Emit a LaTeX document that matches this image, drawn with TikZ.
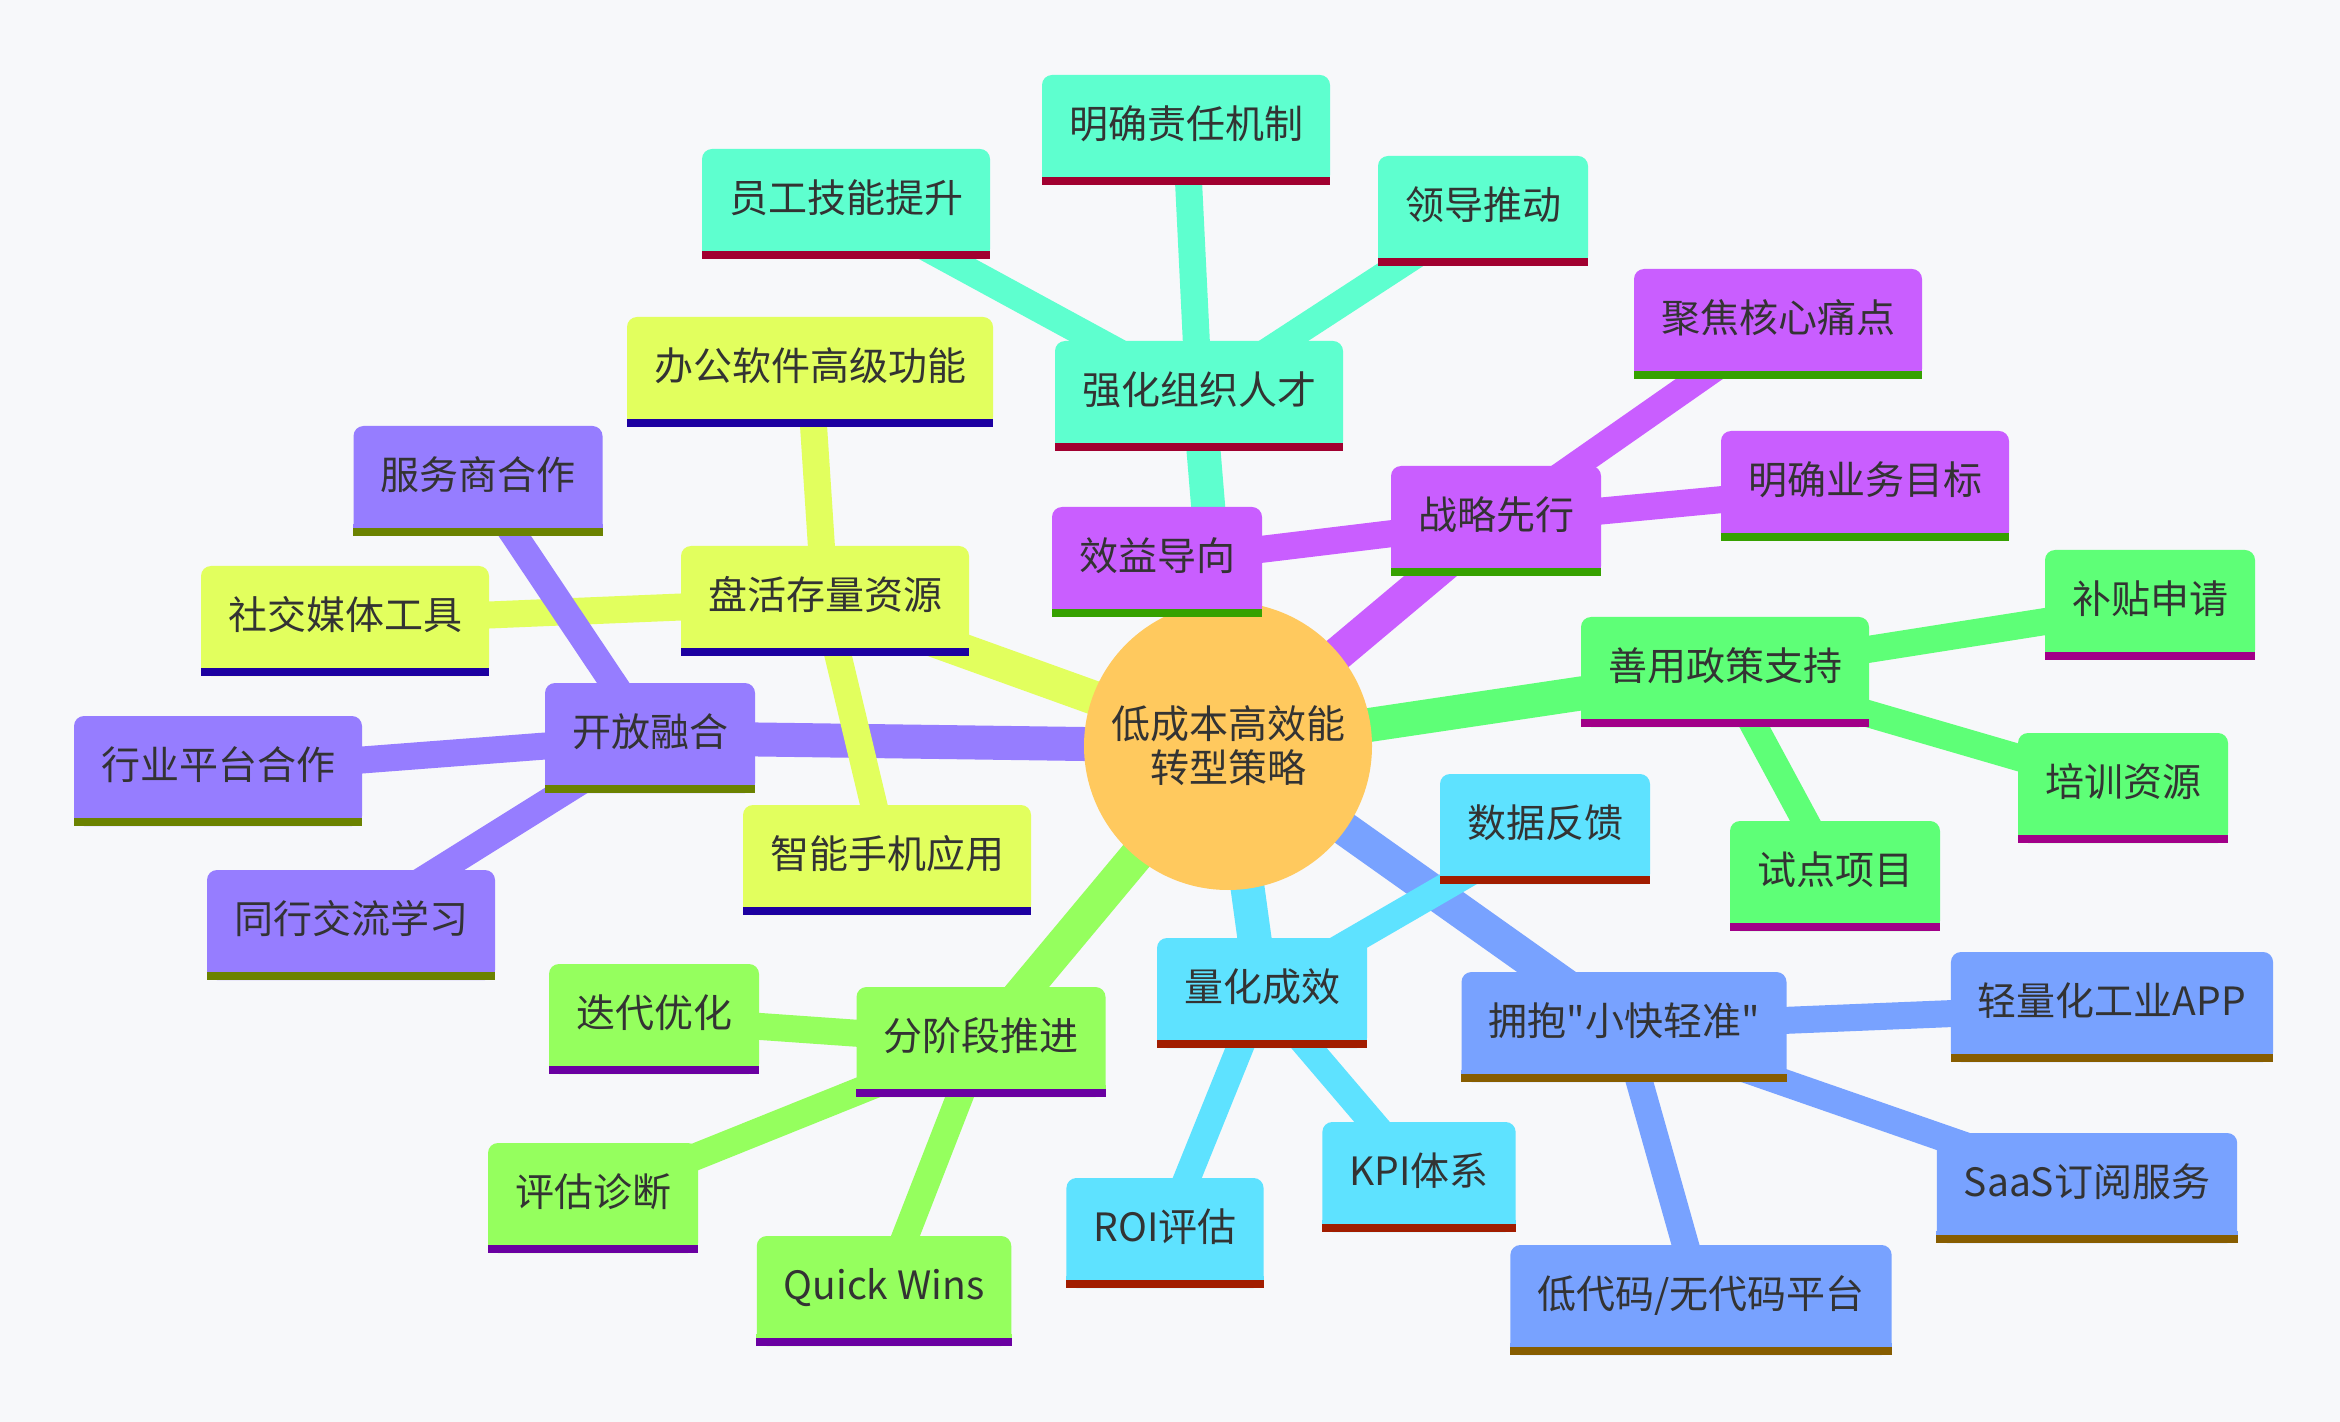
\documentclass[tikz,border=0pt]{standalone}
\usepackage{fontspec}
\newfontfamily\cjk{Noto Sans CJK SC}

\definecolor{pagebg}{HTML}{F7F8FA}
\definecolor{txt}{HTML}{333333}
\definecolor{rootc}{HTML}{FFC95E}
\definecolor{yel}{HTML}{E2FF5E}\definecolor{yelS}{HTML}{1D00A1}
\definecolor{lgr}{HTML}{95FF5E}\definecolor{lgrS}{HTML}{6A00A1}
\definecolor{grn}{HTML}{5EFF77}\definecolor{grnS}{HTML}{A10088}
\definecolor{tea}{HTML}{5EFFCF}\definecolor{teaS}{HTML}{A10030}
\definecolor{cya}{HTML}{5EE2FF}\definecolor{cyaS}{HTML}{A11D00}
\definecolor{blu}{HTML}{78A2FF}\definecolor{bluS}{HTML}{875D00}
\definecolor{lav}{HTML}{967DFF}\definecolor{lavS}{HTML}{6B8200}
\definecolor{pur}{HTML}{C95EFF}\definecolor{purS}{HTML}{36A100}

\pgfdeclarelayer{back}
\pgfdeclarelayer{links}
\pgfsetlayers{back,links,main}

\tikzset{
  mm/.style={rectangle, rounded corners=5pt, fill=#1, text=txt,
    minimum height=55pt, inner xsep=13.5pt, text height=13pt, text depth=4.2pt,
    font=\cjk\fontsize{19.5}{23}\selectfont},
  trunk/.style={line width=17pt, draw=#1},
  twig/.style={line width=13.5pt, draw=#1}
}

\begin{document}
\begin{tikzpicture}[x=0.5pt, y=-0.5pt]
  \useasboundingbox (0,0) rectangle (2340,1422);
  \begin{pgfonlayer}{back}
    \fill[pagebg] (0,0) rectangle (2340,1422);
  \end{pgfonlayer}

  % Racine
  \node[circle, fill=rootc, minimum size=144pt, inner sep=0pt, text=txt, align=center,
        font=\cjk\fontsize{19.5}{22}\selectfont] (root) at (1228,746) {低成本高效能\\转型策略};

  % Branches principales
  \node[mm=yel] (stock)   at (825,601)  {盘活存量资源};
  \node[mm=lgr] (phase)   at (981,1042) {分阶段推进};
  \node[mm=grn] (policy)  at (1725,672) {善用政策支持};
  \node[mm=tea] (talent)  at (1199,396) {强化组织人才};
  \node[mm=cya] (measure) at (1262,993) {量化成效};
  \node[mm=blu] (light)   at (1624,1027) {拥抱"小快轻准"};
  \node[mm=lav] (open)    at (650,738)  {开放融合};
  \node[mm=pur] (strat)   at (1496,521) {战略先行};

  % Feuilles
  \node[mm=yel] (office)   at (810,372)  {办公软件高级功能};
  \node[mm=yel] (social)   at (345,621)  {社交媒体工具};
  \node[mm=yel] (phone)    at (887,860)  {智能手机应用};
  \node[mm=lgr] (iter)     at (654,1019) {迭代优化};
  \node[mm=lgr] (diag)     at (593,1198) {评估诊断};
  \node[mm=lgr] (wins)     at (884,1291) {Quick Wins};
  \node[mm=grn] (subsidy)  at (2150,605) {补贴申请};
  \node[mm=grn] (train)    at (2123,788) {培训资源};
  \node[mm=grn] (pilot)    at (1835,876) {试点项目};
  \node[mm=tea] (skill)    at (846,204)  {员工技能提升};
  \node[mm=tea] (duty)     at (1186,130) {明确责任机制};
  \node[mm=tea] (lead)     at (1483,211) {领导推动};
  \node[mm=cya] (feedback) at (1545,829) {数据反馈};
  \node[mm=cya] (kpi)      at (1419,1177) {KPI体系};
  \node[mm=cya] (roi)      at (1165,1233) {ROI评估};
  \node[mm=blu] (app)      at (2112,1007) {轻量化工业APP};
  \node[mm=blu] (saas)     at (2087,1188) {SaaS订阅服务};
  \node[mm=blu] (lowcode)  at (1701,1300) {低代码/无代码平台};
  \node[mm=lav] (vendor)   at (478,481)  {服务商合作};
  \node[mm=lav] (industry) at (218,771)  {行业平台合作};
  \node[mm=lav] (peer)     at (351,925)  {同行交流学习};
  \node[mm=pur] (pain)     at (1778,324) {聚焦核心痛点};
  \node[mm=pur] (goal)     at (1865,486) {明确业务目标};
  \node[mm=pur] (benefit)  at (1157,562) {效益导向};

  % Bas des cases : coins droits et liseré
  \foreach \n/\c/\s in {stock/yel/yelS, office/yel/yelS, social/yel/yelS, phone/yel/yelS,
      phase/lgr/lgrS, iter/lgr/lgrS, diag/lgr/lgrS, wins/lgr/lgrS,
      policy/grn/grnS, subsidy/grn/grnS, train/grn/grnS, pilot/grn/grnS,
      talent/tea/teaS, skill/tea/teaS, duty/tea/teaS, lead/tea/teaS,
      measure/cya/cyaS, feedback/cya/cyaS, kpi/cya/cyaS, roi/cya/cyaS,
      light/blu/bluS, app/blu/bluS, saas/blu/bluS, lowcode/blu/bluS,
      open/lav/lavS, vendor/lav/lavS, industry/lav/lavS, peer/lav/lavS,
      strat/pur/purS, pain/pur/purS, goal/pur/purS, benefit/pur/purS}{
    \fill[\c] (\n.south west) rectangle ([yshift=6pt]\n.south east);
    \fill[\s] (\n.south west) rectangle ([yshift=4pt]\n.south east);
  }

  % Liens
  \begin{pgfonlayer}{links}
    \draw[trunk=yel] (root.center) -- (stock.center);
    \draw[trunk=lgr] (root.center) -- (phase.center);
    \draw[trunk=grn] (root.center) -- (policy.center);
    \draw[trunk=tea] (root.center) -- (talent.center);
    \draw[trunk=cya] (root.center) -- (measure.center);
    \draw[trunk=blu] (root.center) -- (light.center);
    \draw[trunk=lav] (root.center) -- (open.center);
    \draw[trunk=pur] (root.center) -- (strat.center);

    \foreach \a in {office, social, phone}
      \draw[twig=yel] (stock.center) -- (\a.center);
    \foreach \a in {iter, diag, wins}
      \draw[twig=lgr] (phase.center) -- (\a.center);
    \foreach \a in {subsidy, train, pilot}
      \draw[twig=grn] (policy.center) -- (\a.center);
    \foreach \a in {skill, duty, lead}
      \draw[twig=tea] (talent.center) -- (\a.center);
    \foreach \a in {feedback, kpi, roi}
      \draw[twig=cya] (measure.center) -- (\a.center);
    \foreach \a in {app, saas, lowcode}
      \draw[twig=blu] (light.center) -- (\a.center);
    \foreach \a in {vendor, industry, peer}
      \draw[twig=lav] (open.center) -- (\a.center);
    \foreach \a in {pain, goal, benefit}
      \draw[twig=pur] (strat.center) -- (\a.center);
  \end{pgfonlayer}
\end{tikzpicture}
\end{document}
